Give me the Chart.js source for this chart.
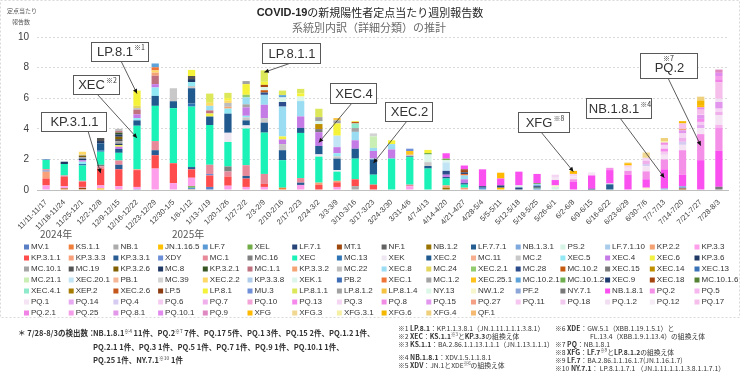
<!DOCTYPE html>
<html>
<head>
<meta charset="utf-8">
<script src="https://cdn.jsdelivr.net/npm/chart.js@4.4.1/dist/chart.umd.min.js"></script>
<style>
  html, body { margin: 0; padding: 0; background: #fff; }
  #wrap { position: relative; width: 740px; height: 379px; overflow: hidden; }
  canvas { position: absolute; left: 0; top: 0; }
  .note { position: absolute; color: #333; white-space: nowrap; font-family: "Noto Sans CJK JP", "Liberation Sans", sans-serif; }
  .main { font-size: 7.5px; font-weight: bold; line-height: 13.5px; }
  .small { font-size: 6.8px; line-height: 8px; }
  sup { font-size: 0.65em; vertical-align: 0.6em; line-height: 0; font-weight: normal; }
</style>
</head>
<body>
<div id="wrap">
  <canvas id="chart" width="740" height="379"></canvas>

  <div class="note main" style="left:18px; top:326px;">＊ 7/28-8/3の検出数：</div>
  <div class="note main" style="left:93px; top:326px;">NB.1.8.1<sup>※4</sup> 11件、PQ.2<sup>※7</sup> 7件、PQ.17 5件、PQ.1 3件、PQ.15 2件、PQ.1.2 1件、<br>PQ.2.1 1件、PQ.3 1件、PQ.5 1件、PQ.7 1件、PQ.9 1件、PQ.10.1 1件、<br>PQ.25 1件、NY.7.1<sup>※10</sup> 1件</div>

  <div class="note small" style="left:398px; top:324px;">※1 <b>LP.8.1</b>：KP.1.1.3.8.1（JN.1.11.1.1.1.3.8.1）</div>
  <div class="note small" style="left:398px; top:332px;">※2 <b>XEC</b>：<b>KS.1.1</b><sup>※3</sup>と<b>KP.3.3</b>の組換え体</div>
  <div class="note small" style="left:398px; top:340px;">※3 <b>KS.1.1</b>：BA.2.86.1.1.13.1.1.1（JN.1.13.1.1.1）</div>
  <div class="note small" style="left:398px; top:353px;">※4 <b>NB.1.8.1</b>：XDV.1.5.1.1.8.1</div>
  <div class="note small" style="left:398px; top:361px;">※5 <b>XDV</b>：JN.1とXDE<sup>※6</sup>の組換え体</div>

  <div class="note small" style="left:555px; top:324px;">※6 <b>XDE</b>：GW.5.1（XBB.1.19.1.5.1）と</div>
  <div class="note small" style="left:590px; top:332px;">FL.13.4（XBB.1.9.1.13.4）の組換え体</div>
  <div class="note small" style="left:555px; top:340px;">※7 <b>PQ</b>：NB.1.8.1</div>
  <div class="note small" style="left:555px; top:348px;">※8 <b>XFG</b>：<b>LF.7</b><sup>※9</sup>と<b>LP.8.1.2</b>の組換え体</div>
  <div class="note small" style="left:555px; top:356px;">※9 <b>LF.7</b>：BA.2.86.1.1.16.1.7(JN.1.16.1.7)</div>
  <div class="note small" style="left:555px; top:364px;">※10 <b>NY.7.1</b>： LP.8.1.1.7.1 （JN.1.11.1.1.1.3.8.1.1.7.1）</div>
</div>

<script>
// weeks (x categories)
const weeks = [
  '11/11-11/17', '11/18-11/24', '11/25-12/1', '12/2-12/8', '12/9-12/15', '12/16-12/22',
  '12/23-12/29', '12/30-1/5', '1/6-1/12', '1/13-1/19', '1/20-1/26', '1/27-2/2',
  '2/3-2/9', '2/10-2/16', '2/17-2/23', '2/24-3/2', '3/3-3/9', '3/10-3/16',
  '3/17-3/23', '3/24-3/30', '3/31-4/6', '4/7-4/13', '4/14-4/20', '4/21-4/27',
  '4/28-5/4', '5/5-5/11', '5/12-5/18', '5/19-5/25', '5/26-6/1', '6/2-6/8',
  '6/9-6/15', '6/16-6/22', '6/23-6/29', '6/30-7/6', '7/7-7/13', '7/14-7/20',
  '7/21-7/27', '7/28-8/3'
];

const yTicks = [0, 2, 4, 6, 8, 10];

// lineages, in stacking / legend order
const seriesNames = [
  'MV.1', 'KS.1.1', 'NB.1', 'JN.1.16.5', 'LF.7', 'XEL', 'LF.7.1', 'MT.1',
  'NF.1', 'NB.1.2', 'LF.7.7.1', 'NB.1.3.1', 'PS.2', 'LF.7.1.10', 'KP.2.2', 'KP.3.3',
  'KP.3.1.1', 'KP.3.3.3', 'KP.3.3.1', 'XDY', 'MC.1', 'MC.16', 'XEC', 'MC.13',
  'XEK', 'XEC.2', 'MC.11', 'MC.2', 'XEC.5', 'XEC.4', 'XEC.6', 'KP.3.6',
  'MC.10.1', 'MC.19', 'KP.3.2.6', 'MC.8', 'KP.3.2.1', 'MC.1.1', 'KP.3.3.2', 'MC.22',
  'XEC.8', 'MC.24', 'XEC.2.1', 'MC.28', 'MC.10.2', 'XEC.15', 'XEC.14', 'XEC.13',
  'MC.21.1', 'XEC.20.1', 'PB.1', 'MC.39', 'XEC.2.2', 'KP.3.3.8', 'XEK.1', 'PB.2',
  'XEC.1', 'MC.1.2', 'XEC.25.1', 'MC.10.2.1', 'MC.10.1.2', 'XEC.9', 'XEC.18', 'MC.10.1.6',
  'XEC.4.1', 'XEP.2', 'XEC.2.6', 'LP.5', 'LP.8.1', 'MU.3', 'LP.8.1.1', 'LP.8.1.2',
  'LP.8.1.4', 'NY.13', 'NW.1.2', 'PF.2', 'NY.7.1', 'NB.1.8.1', 'PQ.2', 'PQ.5',
  'PQ.1', 'PQ.14', 'PQ.4', 'PQ.6', 'PQ.7', 'PQ.10', 'PQ.13', 'PQ.3',
  'PQ.8', 'PQ.15', 'PQ.27', 'PQ.11', 'PQ.18', 'PQ.1.2', 'PQ.12', 'PQ.17',
  'PQ.2.1', 'PQ.25', 'PQ.8.1', 'PQ.10.1', 'PQ.9', 'XFG', 'XFG.3', 'XFG.3.1',
  'XFG.6', 'XFG.4', 'QF.1'
];

const seriesColors = [
  '#5B7FC4', '#F07F3C', '#ABABAB', '#FFC000', '#5B9BD5', '#70AD47', '#264478', '#9E480E',
  '#636363', '#997300', '#255E91', '#7FA8DC', '#D6F5E6', '#A9CCEB', '#F4A070', '#FF9EEA',
  '#FF4D4D', '#F8A07A', '#2A5C94', '#6B8ED6', '#E8899A', '#808080', '#1AF2B8', '#2F75B5',
  '#EFE8F3', '#215A8F', '#F7AE8E', '#C8C8C8', '#90E8F4', '#C57BE6', '#F2F040', '#1F3864',
  '#A5A5A5', '#545454', '#806000', '#203864', '#375623', '#C0717F', '#F4A474', '#BDBDBD',
  '#9ADCF2', '#E4D65C', '#92CC6E', '#2C4C8C', '#C55A11', '#7A7A7A', '#BF8F00', '#3A72B8',
  '#C9EFB5', '#C2E5F5', '#F5B797', '#D3D3D3', '#FFD966', '#AFCBEB', '#DDF6EC', '#3F6CB6',
  '#EF7438', '#A3A3A3', '#FFC21A', '#5DA2D9', '#6FAF4F', '#1F3C6F', '#A5450F', '#548235',
  '#8FEACB', '#A67C00', '#C4571B', '#8C3A10', '#F5F23A', '#6F90D8', '#DCE85A', '#A2A2A2',
  '#F5C242', '#DBF7E8', '#F7F5CC', '#8CA6D8', '#787878', '#FA50F0', '#F590E8', '#F6B6EE',
  '#F4E4F4', '#E7A9F1', '#D6CCF2', '#F5CCF1', '#F0B0EC', '#F3A3D8', '#F58AEC', '#F6D4F3',
  '#F28DE6', '#E296EE', '#F3A084', '#F6C6F0', '#F3CAEF', '#F2DEF2', '#F6ECF6', '#F5BEEB',
  '#F283E6', '#F59DE9', '#E397E9', '#E38AEE', '#E088C2', '#FFB900', '#F1D892', '#F5F0A4',
  '#F4B800', '#EFD07C', '#F4BA72'
];

// estimated per-week breakdown (reports per sentinel site)
const w00 = { 'KP.3.3': 0.3, 'KP.3.1.1': 0.45, 'KP.3.3.3': 0.45, 'XDY': 0.08, 'MC.1': 0.08, 'XEC': 0.6, 'MC.13': 0.04 };
const w01 = { 'KS.1.1': 0.08, 'MT.1': 0.04, 'KP.3.3': 0.13, 'KP.3.1.1': 0.6, 'MC.1': 0.1, 'XEC': 0.75, 'KP.3.6': 0.15 };
const w02 = { 'KS.1.1': 0.05, 'MT.1': 0.1, 'KP.3.3': 0.05, 'KP.3.1.1': 0.35, 'MC.1': 0.05, 'XEC': 1.0, 'MC.13': 0.1, 'XEC.5': 0.15, 'XEC.4': 0.1, 'KP.3.6': 0.1, 'MC.10.1': 0.1, 'KP.3.2.6': 0.1, 'MC.22': 0.05, 'XEC.2.2': 0.2 };
const w03 = { 'JN.1.16.5': 0.1, 'KP.3.3': 0.2, 'KP.3.1.1': 1.1, 'MC.1': 0.15, 'MC.16': 0.1, 'XEC': 0.85, 'MC.13': 0.1, 'XEC.2': 0.45, 'KP.3.6': 0.15, 'MC.19': 0.2 };
const w04 = { 'KS.1.1': 0.05, 'KP.3.3': 0.2, 'KP.3.1.1': 1.1, 'KP.3.3.1': 0.3, 'MC.1': 0.28, 'XEC': 0.5, 'XEC.2': 0.25, 'XEC.4': 0.15, 'XEC.6': 0.1, 'KP.3.6': 0.1, 'MC.10.1': 0.15, 'MC.19': 0.15, 'KP.3.2.6': 0.15, 'MC.8': 0.15, 'KP.3.2.1': 0.12, 'MC.1.1': 0.1, 'MC.22': 0.15 };
const w05 = { 'MV.1': 0.05, 'KP.3.3': 0.15, 'KP.3.1.1': 1.1, 'KP.3.3.3': 0.05, 'XEC': 2.85, 'XEC.2': 0.35, 'XEC.5': 0.15, 'XEC.4': 0.25, 'MC.1.1': 0.3, 'MC.22': 0.1, 'MC.24': 0.15, 'LP.8.1': 1.0 };
const w06 = { 'KP.3.3': 1.4, 'KP.3.1.1': 0.87, 'KP.3.3.1': 0.33, 'MC.1': 0.6, 'XEC': 2.3, 'XEC.2': 0.65, 'XEC.5': 0.55, 'XEC.4': 0.22, 'MC.1.1': 0.55, 'KP.3.3.2': 0.2, 'XEC.2.2': 0.15, 'XEC.1': 0.2, 'MC.10.2.1': 0.25 };
const w07 = { 'KP.3.3': 0.45, 'KP.3.1.1': 1.3, 'XEC': 3.6, 'XEC.2': 0.45, 'MC.2': 0.85 };
const w08 = { 'KS.1.1': 0.05, 'LF.7': 0.1, 'XEL': 0.1, 'KP.3.3': 0.55, 'KP.3.1.1': 0.55, 'KP.3.3.1': 0.15, 'XEC': 3.95, 'MC.13': 0.2, 'XEC.2': 1.0, 'MC.2': 0.15, 'XEC.5': 0.25, 'KP.3.6': 0.2, 'MC.19': 0.2, 'LP.8.1': 0.4 };
const w09 = { 'MV.1': 0.2, 'KP.3.1.1': 0.75, 'XDY': 0.1, 'MC.1': 0.6, 'XEC': 2.6, 'XEC.2': 0.55, 'XEC.6': 0.2, 'MC.1.1': 0.2, 'XEC.8': 0.3, 'XEC.2.2': 0.2, 'LP.8.1.1': 0.6 };
const w10 = { 'KP.3.3': 0.28, 'KP.3.1.1': 0.6, 'MC.1': 0.33, 'MC.16': 0.33, 'XEC': 1.6, 'XEK': 0.6, 'XEC.2': 1.25, 'XEC.5': 0.33, 'KP.3.3.2': 0.12, 'MC.22': 0.25, 'XEC.2.2': 0.15, 'LP.8.1': 0.16, 'LP.8.1.1': 0.35 };
const w11 = { 'KP.3.3': 0.2, 'KP.3.1.1': 0.55, 'KP.3.3.1': 0.17, 'MC.1': 0.7, 'XEC': 2.4, 'XEK': 0.2, 'XEC.2': 0.33, 'MC.2': 0.2, 'XEC.5': 0.1, 'XEC.4': 0.55, 'MC.10.1': 0.2, 'XEC.8': 0.45, 'XEC.2.1': 0.17, 'LP.8.1': 0.7, 'LP.8.1.2': 0.2 };
const w12 = { 'KP.3.3': 0.2, 'KP.3.1.1': 0.2, 'MC.1': 0.65, 'XEC': 2.7, 'XEC.2': 0.65, 'MC.2': 0.3, 'XEC.4': 0.87, 'XEC.8': 0.65, 'MC.28': 0.15, 'MC.10.2': 0.15, 'XEK.1': 0.2, 'XEC.18': 0.15, 'LP.8.1': 0.2, 'LP.8.1.1': 0.75 };
const w13 = { 'KS.1.1': 0.15, 'XEC': 1.8, 'XEC.2': 0.65, 'MC.2': 0.4, 'XEC.4': 0.3, 'XEC.6': 0.2, 'XEC.8': 1.95, 'MC.28': 0.3, 'XEK.1': 0.3, 'MC.10.2.1': 0.15, 'LP.8.1.1': 0.3 };
const w14 = { 'KP.3.3': 0.33, 'KP.3.3.1': 0.15, 'MC.1': 0.3, 'XEC': 2.95, 'XEC.2': 0.33, 'XEC.4': 0.75, 'XEC.8': 1.0, 'XEK.1': 0.3, 'LP.8.1': 0.2, 'LP.8.1.1': 0.3 };
const w15 = { 'KP.3.1.1': 0.33, 'KP.3.3.3': 0.15, 'XEC': 1.7, 'XEK': 0.15, 'XEC.2': 0.55, 'XEC.4': 0.9, 'XEC.15': 0.2, 'XEC.14': 0.33, 'XEK.1': 0.2, 'MC.1.2': 0.25, 'LP.8.1.1': 0.55 };
const w16 = { 'KP.3.3': 0.2, 'KP.3.1.1': 0.3, 'KP.3.3.3': 0.1, 'XEC': 0.6, 'XEK': 0.1, 'XEC.2': 0.75, 'MC.2': 0.15, 'XEC.5': 0.2, 'XEC.4': 0.4, 'XEC.20.1': 0.75, 'LP.8.1': 0.8, 'LP.8.1.2': 0.2, 'LP.8.1.4': 0.15 };
const w17 = { 'NB.1': 0.25, 'KP.3.1.1': 0.45, 'XEC': 1.35, 'XEC.2': 0.65, 'XEC.4': 0.55, 'XEC.8': 0.55, 'MC.1.2': 0.25, 'XEC.4.1': 0.3, 'XEC.2.6': 0.1, 'LP.8.1': 0.05 };
const w18 = { 'KP.3.1.1': 0.35, 'XEC': 0.65, 'XEC.2': 1.0, 'XEC.5': 0.05, 'XEC.4': 0.5, 'XEC.8': 0.2, 'MC.21.1': 0.75, 'MC.39': 0.2 };
const w19 = { 'XEC': 2.05, 'XEC.4': 0.6, 'XEC.8': 0.35, 'LP.8.1': 0.25 };
const w20 = { 'KP.3.3': 0.25, 'MC.1': 0.1, 'XEC': 1.8, 'XEC.2': 0.05, 'MC.2': 0.1, 'XEC.25.1': 0.25, 'MU.3': 0.15 };
const w21 = { 'XEC': 1.4, 'XEC.2': 0.17, 'MC.2': 0.25, 'XEK.1': 0.5, 'MC.10.1.2': 0.1, 'LP.8.1': 0.2 };
const w22 = { 'NB.1.2': 0.15, 'KP.3.3.3': 0.15, 'XEC': 0.45, 'XEC.2': 0.1, 'XEC.4': 0.15, 'MC.28': 0.25, 'XEC.20.1': 0.55, 'XEK.1': 0.15, 'MC.10.1.2': 0.1, 'NB.1.8.1': 0.35 };
const w23 = { 'KP.3.3.3': 0.15, 'XEC': 0.2, 'XEC.2': 0.1, 'XEC.4': 0.25, 'XEC.8': 0.25, 'XEC.1': 0.1, 'XEC.9': 0.1, 'XEC.18': 0.1, 'LP.5': 0.1, 'NB.1.8.1': 0.25 };
const w24 = { 'LF.7': 0.15, 'LF.7.1': 0.1, 'NB.1.8.1': 1.1 };
const w25 = { 'JN.1.16.5': 0.15, 'LF.7.1': 0.15, 'NB.1.8.1': 0.45, 'XFG': 0.38 };
const w26 = { 'LF.7.1': 0.15, 'NB.1.3.1': 0.05, 'NY.13': 0.1, 'NB.1.8.1': 0.9 };
const w27 = { 'LF.7': 0.1, 'XEL': 0.05, 'LF.7.1': 0.1, 'NB.1.3.1': 0.1, 'XEC.5': 0.05, 'MC.10.1.6': 0.05, 'NB.1.8.1': 0.6 };
const w28 = { 'PS.2': 0.2, 'NW.1.2': 0.1, 'NB.1.8.1': 0.35, 'PQ.1': 0.2, 'PQ.3': 0.15 };
const w29 = { 'NB.1.8.1': 0.55, 'PQ.2': 0.15, 'PQ.1': 0.2, 'PQ.3': 0.15, 'XFG': 0.2 };
const w30 = { 'LF.7.1': 0.08, 'NB.1.8.1': 0.87, 'PQ.1': 0.2 };
const w31 = { 'LF.7.7.1': 0.37, 'PS.2': 0.05, 'NB.1.8.1': 0.88, 'PQ.2': 0.15 };
const w32 = { 'NB.1.8.1': 1.0, 'PQ.2': 0.25, 'PQ.1': 0.2, 'PQ.3': 0.15, 'XFG': 0.15, 'XFG.3': 0.05 };
const w33 = { 'NW.1.2': 0.15, 'NB.1.8.1': 0.55, 'PQ.2': 0.5, 'PQ.5': 0.05, 'PQ.1': 0.3, 'PQ.4': 0.15, 'PQ.7': 0.2, 'PQ.3': 0.2, 'XFG.3': 0.35 };
const w34 = { 'PF.2': 0.1, 'NB.1.8.1': 1.25, 'PQ.2': 0.65, 'PQ.1': 0.3, 'PQ.6': 0.2, 'PQ.13': 0.2, 'PQ.3': 0.25, 'PQ.8': 0.15, 'XFG.3.1': 0.1, 'XFG.4': 0.2 };
const w35 = { 'MT.1': 0.1, 'PF.2': 0.15, 'NB.1.8.1': 0.75, 'PQ.2': 1.6, 'PQ.1': 0.35, 'PQ.4': 0.2, 'PQ.7': 0.25, 'PQ.3': 0.3, 'PQ.15': 0.2, 'PQ.27': 0.1, 'PQ.17': 0.35, 'XFG.6': 0.15 };
const w36 = { 'NB.1.8.1': 1.95, 'PQ.2': 1.7, 'PQ.1': 0.4, 'PQ.14': 0.2, 'PQ.6': 0.2, 'PQ.13': 0.2, 'PQ.15': 0.25, 'PQ.11': 0.05, 'PQ.17': 0.3, 'PQ.10.1': 0.15, 'XFG': 0.15, 'XFG.6': 0.3, 'XFG.4': 0.25 };
const w37 = { 'NY.7.1': 0.21, 'NB.1.8.1': 2.35, 'PQ.2': 1.49, 'PQ.5': 0.21, 'PQ.1': 0.64, 'PQ.7': 0.21, 'PQ.3': 0.21, 'PQ.15': 0.43, 'PQ.1.2': 0.21, 'PQ.17': 1.07, 'PQ.2.1': 0.21, 'PQ.25': 0.21, 'PQ.10.1': 0.21, 'PQ.9': 0.21 };

const weekValues = [w00, w01, w02, w03, w04, w05, w06, w07, w08, w09, w10, w11, w12, w13, w14, w15, w16, w17, w18,
  w19, w20, w21, w22, w23, w24, w25, w26, w27, w28, w29, w30, w31, w32, w33, w34, w35, w36, w37];

// callouts: label, superscript, week index, value at arrow tip, box [x, y, w, h], arrow start
const callouts = [
  { text: 'LP.8.1', sup: '※1', week: 5, value: 6.3, box: [91, 42, 57, 19], from: [121, 61] },
  { text: 'XEC', sup: '※2', week: 5, value: 3.4, box: [73, 75, 46, 19], from: [97, 94] },
  { text: 'KP.3.1.1', sup: '', week: 3, value: 1.1, box: [41, 112, 65, 19], from: [88, 131] },
  { text: 'LP.8.1.1', sup: '', week: 12, value: 7.7, box: [262, 43, 58, 20], from: [291, 63] },
  { text: 'XEC.4', sup: '', week: 15, value: 3.1, box: [330, 83, 46, 20], from: [352, 103] },
  { text: 'XEC.2', sup: '', week: 18, value: 1.75, box: [385, 102, 47, 19], from: [407, 121] },
  { text: 'XFG', sup: '※8', week: 29, value: 1.2, box: [518, 112, 51, 20], from: [541, 132] },
  { text: 'NB.1.8.1', sup: '※4', week: 34, value: 0.8, box: [586, 98, 65, 20], from: [620, 118] },
  { text: 'PQ.2', sup: '※7', week: 36, value: 2.9, box: [640, 53, 57, 25], from: [668, 78], supTop: true }
];

const datasets = seriesNames.map((name, i) => ({
  label: name,
  data: weekValues.map(w => (w[name] !== undefined ? w[name] : null)),
  backgroundColor: seriesColors[i],
  borderWidth: 0,
  stack: 'all',
  categoryPercentage: 0.8,
  barPercentage: 0.5
}));

const overlay = {
  id: 'overlay',
  afterDatasetsDraw(chart) {
    const ctx = chart.ctx;
    const xs = chart.scales.x, ys = chart.scales.y;
    ctx.save();
    callouts.forEach(c => {
      const [bx, by, bw, bh] = c.box;
      const tx = xs.getPixelForValue(c.week), ty = ys.getPixelForValue(c.value);
      // arrow
      ctx.strokeStyle = '#333';
      ctx.lineWidth = 0.8;
      ctx.beginPath();
      ctx.moveTo(c.from[0], c.from[1]);
      ctx.lineTo(tx, ty);
      ctx.stroke();
      const ang = Math.atan2(ty - c.from[1], tx - c.from[0]);
      ctx.fillStyle = '#111';
      ctx.beginPath();
      ctx.moveTo(tx, ty);
      ctx.lineTo(tx - 5 * Math.cos(ang - 0.45), ty - 5 * Math.sin(ang - 0.45));
      ctx.lineTo(tx - 5 * Math.cos(ang + 0.45), ty - 5 * Math.sin(ang + 0.45));
      ctx.closePath();
      ctx.fill();
      // box
      ctx.fillStyle = '#fff';
      ctx.fillRect(bx, by, bw, bh);
      ctx.strokeStyle = '#595959';
      ctx.lineWidth = 1;
      ctx.strokeRect(bx + 0.5, by + 0.5, bw, bh);
      ctx.font = '13px "Liberation Sans", sans-serif';
      const tw = ctx.measureText(c.text).width;
      ctx.font = '7px "Noto Sans CJK JP", sans-serif';
      const sw = c.sup && !c.supTop ? ctx.measureText(c.sup).width : 0;
      const x0 = bx + (bw - tw - sw) / 2 + 1;
      const cy = c.supTop ? by + bh * 0.62 : by + bh / 2 + 1;
      ctx.fillStyle = '#333';
      ctx.textBaseline = 'middle';
      ctx.textAlign = 'left';
      ctx.font = '13px "Liberation Sans", sans-serif';
      ctx.fillText(c.text, x0, cy);
      if (c.sup) {
        ctx.font = '7px "Noto Sans CJK JP", sans-serif';
        if (c.supTop) {
          ctx.textAlign = 'center';
          ctx.fillText(c.sup, bx + bw / 2, by + 5);
        } else {
          ctx.fillText(c.sup, x0 + tw + 1, cy - 5);
        }
      }
    });
    ctx.restore();
  },
  afterDraw(chart) {
    const ctx = chart.ctx;
    ctx.save();
    // outer frame
    ctx.strokeStyle = '#D9D9D9';
    ctx.setLineDash([2, 2]);
    ctx.strokeRect(0.5, 0.5, 739, 317);
    ctx.setLineDash([]);

    // titles
    ctx.textBaseline = 'middle';
    ctx.textAlign = 'left';
    const t1a = 'COVID-19', t1b = 'の新規陽性者定点当たり週別報告数';
    ctx.font = 'bold 11px "Liberation Sans", sans-serif';
    const wa = ctx.measureText(t1a).width;
    ctx.font = '11px "Noto Sans CJK JP", sans-serif';
    const wb = ctx.measureText(t1b).width;
    let x = 370 - (wa + wb) / 2;
    ctx.fillStyle = '#262626';
    ctx.font = 'bold 11px "Liberation Sans", sans-serif';
    ctx.fillText(t1a, x, 13);
    ctx.font = '11px "Noto Sans CJK JP", sans-serif';
    ctx.fillText(t1b, x + wa, 13);
    ctx.fillStyle = '#6B6B6B';
    ctx.textAlign = 'center';
    ctx.font = '11px "Noto Sans CJK JP", sans-serif';
    ctx.fillText('系統別内訳（詳細分類）の推計', 369, 28);

    // y axis caption
    ctx.fillStyle = '#595959';
    ctx.font = '6px "Noto Sans CJK JP", sans-serif';
    ctx.fillText('定点当たり', 22, 11);
    ctx.fillText('報告数', 21, 22);

    // year labels
    ctx.font = '10px "Noto Sans CJK JP", sans-serif';
    ctx.textAlign = 'left';
    ctx.fillStyle = '#595959';
    ctx.fillText('2024年', 40, 234);
    ctx.fillText('2025年', 172, 234);

    // legend grid
    ctx.font = '8px "Liberation Sans", sans-serif';
    chart.data.datasets.forEach((ds, i) => {
      const col = i % 16, row = Math.floor(i / 16);
      const lx = 24 + col * 44.7, ly = 247 + row * 11;
      ctx.fillStyle = ds.backgroundColor;
      ctx.fillRect(lx, ly - 2.5, 5, 5);
      ctx.fillStyle = '#333';
      ctx.fillText(ds.label, lx + 7, ly);
    });
    ctx.restore();
  }
};

new Chart(document.getElementById('chart'), {
  type: 'bar',
  data: { labels: weeks, datasets: datasets },
  options: {
    responsive: false,
    animation: false,
    layout: { padding: { top: 37, right: 12, bottom: 149, left: 0 } },
    plugins: { legend: { display: false }, title: { display: false }, tooltip: { enabled: false } },
    scales: {
      x: {
        stacked: true,
        grid: { display: false },
        border: { display: true, color: '#BFBFBF' },
        ticks: {
          autoSkip: false, minRotation: 45, maxRotation: 45,
          color: '#404040', padding: 0,
          font: { size: 7.5, family: '"Liberation Sans", sans-serif' }
        },
        afterFit: s => { s.height = 40; }
      },
      y: {
        stacked: true,
        min: 0, max: 10,
        afterBuildTicks: s => { s.ticks = yTicks.map(v => ({ value: v })); },
        grid: { color: '#D9D9D9', drawTicks: false },
        border: { display: false, dash: [2, 2] },
        ticks: { color: '#404040', padding: 8, font: { size: 10, family: '"Liberation Sans", sans-serif' } },
        afterFit: s => { s.width = 37; }
      }
    }
  },
  plugins: [overlay]
});
</script>
</body>
</html>
